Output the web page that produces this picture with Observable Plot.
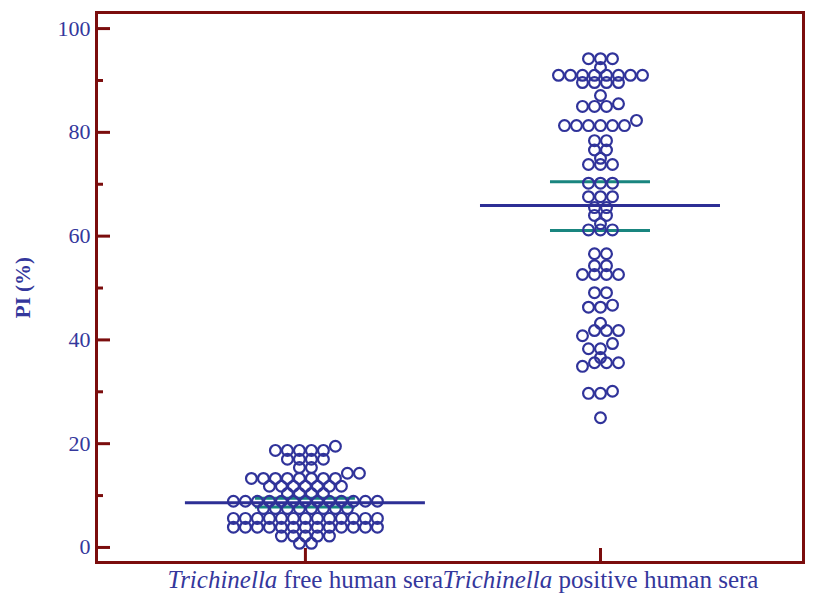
<!DOCTYPE html>
<html><head><meta charset="utf-8">
<script src="https://cdn.jsdelivr.net/npm/d3@7"></script>
<script src="https://cdn.jsdelivr.net/npm/@observablehq/plot@0.6"></script>
<style>html,body{margin:0;padding:0;background:#fff}</style>
</head><body><div id="chart"></div>
<script>
// ---- data ----
const groups = ["Trichinella free human sera", "Trichinella positive human sera"];
const freeValues = [
  19.5,
  18.7, 18.7, 18.7, 18.7, 18.7,
  17.0, 17.0, 17.0, 17.0,
  15.4, 15.4,
  14.3, 14.3,
  13.3, 13.3, 13.3, 13.3, 13.3, 13.3, 13.3, 13.3,
  11.8, 11.8, 11.8, 11.8, 11.8, 11.8, 11.8,
  10.4, 10.4, 10.4, 10.4,
  8.9, 8.9, 8.9, 8.9, 8.9, 8.9, 8.9, 8.9, 8.9, 8.9, 8.9, 8.9, 8.9,
  7.5, 7.5, 7.5, 7.5, 7.5, 7.5, 7.5, 7.5,
  5.6, 5.6, 5.6, 5.6, 5.6, 5.6, 5.6, 5.6, 5.6, 5.6, 5.6, 5.6, 5.6,
  3.9, 3.9, 3.9, 3.9, 3.9, 3.9, 3.9, 3.9, 3.9, 3.9, 3.9, 3.9, 3.9,
  2.2, 2.2, 2.2, 2.2, 2.2,
  0.8, 0.8
];
const positiveValues = [
  94.2, 94.2, 94.2,
  92.5,
  91.0, 91.0, 91.0, 91.0, 91.0, 91.0, 91.0, 91.0,
  89.6, 89.6, 89.6, 89.6,
  87.1,
  85.0, 85.0, 85.0, 85.5,
  81.3, 81.3, 81.3, 81.3, 81.3, 81.3, 82.3,
  78.4, 78.4,
  76.6, 76.6,
  75.0,
  73.8, 73.8, 73.8,
  70.2, 70.2, 70.2,
  67.6, 67.6, 67.6,
  65.5, 65.5,
  64.0, 64.0,
  62.4,
  61.2, 61.2, 61.2,
  56.6, 56.6,
  54.3, 54.3,
  52.6, 52.6, 52.6, 52.6,
  49.1, 49.1,
  46.3, 46.3, 46.7,
  43.2,
  41.8, 41.8, 41.8,
  40.8,
  39.3,
  38.3, 38.3,
  36.6,
  34.9, 35.6, 35.6, 35.6,
  29.7, 29.7, 30.1,
  25.0
];
const means   = [8.6, 65.9];
const ciLower = [7.8, 61.1];
const ciUpper = [9.5, 70.5];
const yTicks = [0, 20, 40, 60, 80, 100];
const yMinorTicks = [10, 30, 50, 70, 90];
const yTitle = "PI (%)";

// ---- layout / style ----
const W = 830, H = 594, mL = 96, mR = 27, mT = 12, mB = 32;
const xMin = -0.708, xMax = 1.688, yMin = -2.9, yMax = 103.1;
const pxX = (W - mL - mR) / (xMax - xMin);
const pxY = (H - mT - mB) / (yMax - yMin);
const spacing = 12 / pxX;
const meanHalf = 120 / pxX, ciHalf = 50 / pxX;
const frameColor = "#7b0d0d", dotColor = "#30339a", meanColor = "#2d2f95", ciColor = "#19857f", textColor = "#34379c";

function layout(values, gi) {
  const sorted = values.slice().sort((a, b) => a - b);
  const rows = [];
  for (const v of sorted) {
    const last = rows[rows.length - 1];
    if (last && v - last[0] <= 1.0) last.push(v); else rows.push([v]);
  }
  return rows.flatMap(row => row.map((v, k) => ({group: groups[gi], gx: gi + (k - (row.length - 1) / 2) * spacing, value: v})));
}
const points = [...layout(freeValues, 0), ...layout(positiveValues, 1)];
const stats = groups.map((g, i) => ({i, mean: means[i], lo: ciLower[i], hi: ciUpper[i]}));

const svg = Plot.plot({
  width: W, height: H,
  marginLeft: mL, marginRight: mR, marginTop: mT, marginBottom: mB,
  x: {domain: [xMin, xMax], axis: null},
  y: {domain: [yMin, yMax], axis: null},
  style: {fontFamily: "'Liberation Serif', 'Times New Roman', serif", fontSize: "22px", color: textColor, background: "#fff"},
  marks: [
    Plot.ruleY(stats, {y: "lo", x1: d => d.i - ciHalf, x2: d => d.i + ciHalf, stroke: ciColor, strokeWidth: 3}),
    Plot.ruleY(stats, {y: "hi", x1: d => d.i - ciHalf, x2: d => d.i + ciHalf, stroke: ciColor, strokeWidth: 3}),
    Plot.dot(points, {x: "gx", y: "value", r: 5.4, stroke: dotColor, strokeWidth: 2.2, fill: "none"}),
    Plot.ruleY(stats, {y: "mean", x1: d => d.i - meanHalf, x2: d => d.i + meanHalf, stroke: meanColor, strokeWidth: 3}),
    Plot.ruleY(yTicks, {y: d => d, x1: xMin, x2: xMin + 14 / pxX, stroke: frameColor, strokeWidth: 3}),
    Plot.ruleY(yMinorTicks, {y: d => d, x1: xMin, x2: xMin + 7 / pxX, stroke: frameColor, strokeWidth: 3}),
    Plot.ruleX(groups, {x: (d, i) => i, y1: yMin, y2: yMin + 14 / pxY, stroke: frameColor, strokeWidth: 3}),
    Plot.frame({stroke: frameColor, strokeWidth: 3}),
    Plot.axisY(yTicks, {anchor: "left", tickSize: 0, tickPadding: 6, label: null, fontSize: 22}),
    Plot.text([yTitle], {x: xMin - 73 / pxX, y: (yMin + yMax) / 2, rotate: -90, text: d => d, fontWeight: "bold", fontSize: 21, fill: textColor, clip: false}),
    Plot.text(groups, {x: (d, i) => i, y: yMin, dy: 17, text: d => d, lineAnchor: "middle", fontSize: 25, fill: textColor})
  ]
});
document.getElementById("chart").appendChild(svg);

d3.select(svg).selectAll("text").filter(function () { return this.textContent.startsWith("Trichinella"); }).each(function () {
  const t = this.textContent;
  const sel = d3.select(this);
  sel.text(null);
  sel.append("tspan").attr("font-style", "italic").text("Trichinella");
  sel.append("tspan").text(t.slice("Trichinella".length));
});
</script>
</body></html>
